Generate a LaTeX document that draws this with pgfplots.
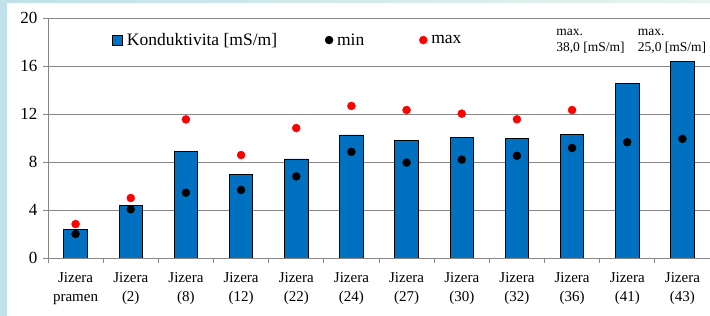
\documentclass[border=0pt]{standalone}
\usepackage{fontspec}
\setmainfont{Liberation Serif}
\usepackage{pgfplots}
\pgfplotsset{compat=1.18}
\definecolor{barblue}{HTML}{0070C0}
\definecolor{gridgray}{HTML}{868686}
\definecolor{bgleft}{HTML}{BFE1EA}
\definecolor{bgright}{HTML}{E6F4EC}
\pgfplotsset{
  dotlegend/.style={legend image code/.code={\draw[##1] plot coordinates {(4pt,0pt)};}},
  barlegend/.style={legend image code/.code={\draw[fill=barblue, draw=black, line width=0.8pt] (0pt,-5pt) rectangle (10pt,5pt);}},
}
\begin{document}
\begin{tikzpicture}
\useasboundingbox (0pt,0pt) rectangle (710pt,316pt);
\shade[left color=bgleft, right color=bgright] (0pt,0pt) rectangle (710pt,316pt);
\fill[white] (7pt,0pt) rectangle (710pt,313pt);
\begin{axis}[
  at={(48pt,58pt)}, anchor=south west,
  scale only axis, width=662pt, height=240pt,
  xmin=-0.5, xmax=11.5, ymin=0, ymax=20,
  ytick={0,4,...,20},
  xtick={0,...,11},
  xticklabels={{Jizera\\pramen},{Jizera\\(2)},{Jizera\\(8)},{Jizera\\(12)},{Jizera\\(22)},{Jizera\\(24)},{Jizera\\(27)},{Jizera\\(30)},{Jizera\\(32)},{Jizera\\(36)},{Jizera\\(41)},{Jizera\\(43)}},
  minor xtick={-0.5,0.5,...,11.5},
  ymajorgrids,
  grid style={gridgray, line width=0.8pt},
  axis x line*=bottom, axis y line*=left,
  axis line style={gridgray, line width=0.8pt},
  tick style={gridgray, line width=0.8pt},
  tick align=outside,
  major tick length=5pt, minor tick length=5pt,
  every major x tick/.append style={draw=none},
  /pgf/number format/assume math mode=true,
  yticklabel style={font=\fontsize{17}{19}\selectfont, xshift=-2pt},
  xticklabel style={align=center, font=\fontsize{15}{19}\selectfont, yshift=-6pt},
  legend columns=3,
  legend style={draw=none, fill=none, at={(0.092,0.908)}, anchor=west,
    font=\fontsize{17.5}{19}\selectfont,
    nodes={inner xsep=4pt},
    /tikz/every even column/.append style={column sep=44pt}},
]
\addplot[ybar, bar width=23.4pt, fill=barblue, draw=black, line width=0.8pt, barlegend]
  coordinates {(0,2.4) (1,4.4) (2,8.85) (3,6.95) (4,8.25) (5,10.25) (6,9.83) (7,10.05) (8,9.93) (9,10.33) (10,14.58) (11,16.38)};
\addlegendentry{Konduktivita [mS/m]}
\addplot[only marks, mark=*, mark size=4pt, black, dotlegend]
  coordinates {(0,2.0) (1,4.06) (2,5.44) (3,5.67) (4,6.8) (5,8.85) (6,7.95) (7,8.2) (8,8.52) (9,9.17) (10,9.65) (11,9.93)};
\addlegendentry{min\hbox to 7pt{}}
\addplot[only marks, mark=*, mark size=4pt, red, dotlegend]
  coordinates {(0,2.83) (1,5.0) (2,11.55) (3,8.58) (4,10.83) (5,12.67) (6,12.33) (7,12.03) (8,11.56) (9,12.33)};
\addlegendentry{max}
\node[anchor=north west, align=left, inner sep=0pt, font=\fontsize{13.5}{16.5}\selectfont] at (axis cs:8.71,19.1) {max.\\38,0 [mS/m]};
\node[anchor=north west, align=left, inner sep=0pt, font=\fontsize{13.5}{16.5}\selectfont] at (axis cs:10.19,19.1) {max.\\25,0 [mS/m]};
\end{axis}
\end{tikzpicture}
\end{document}
